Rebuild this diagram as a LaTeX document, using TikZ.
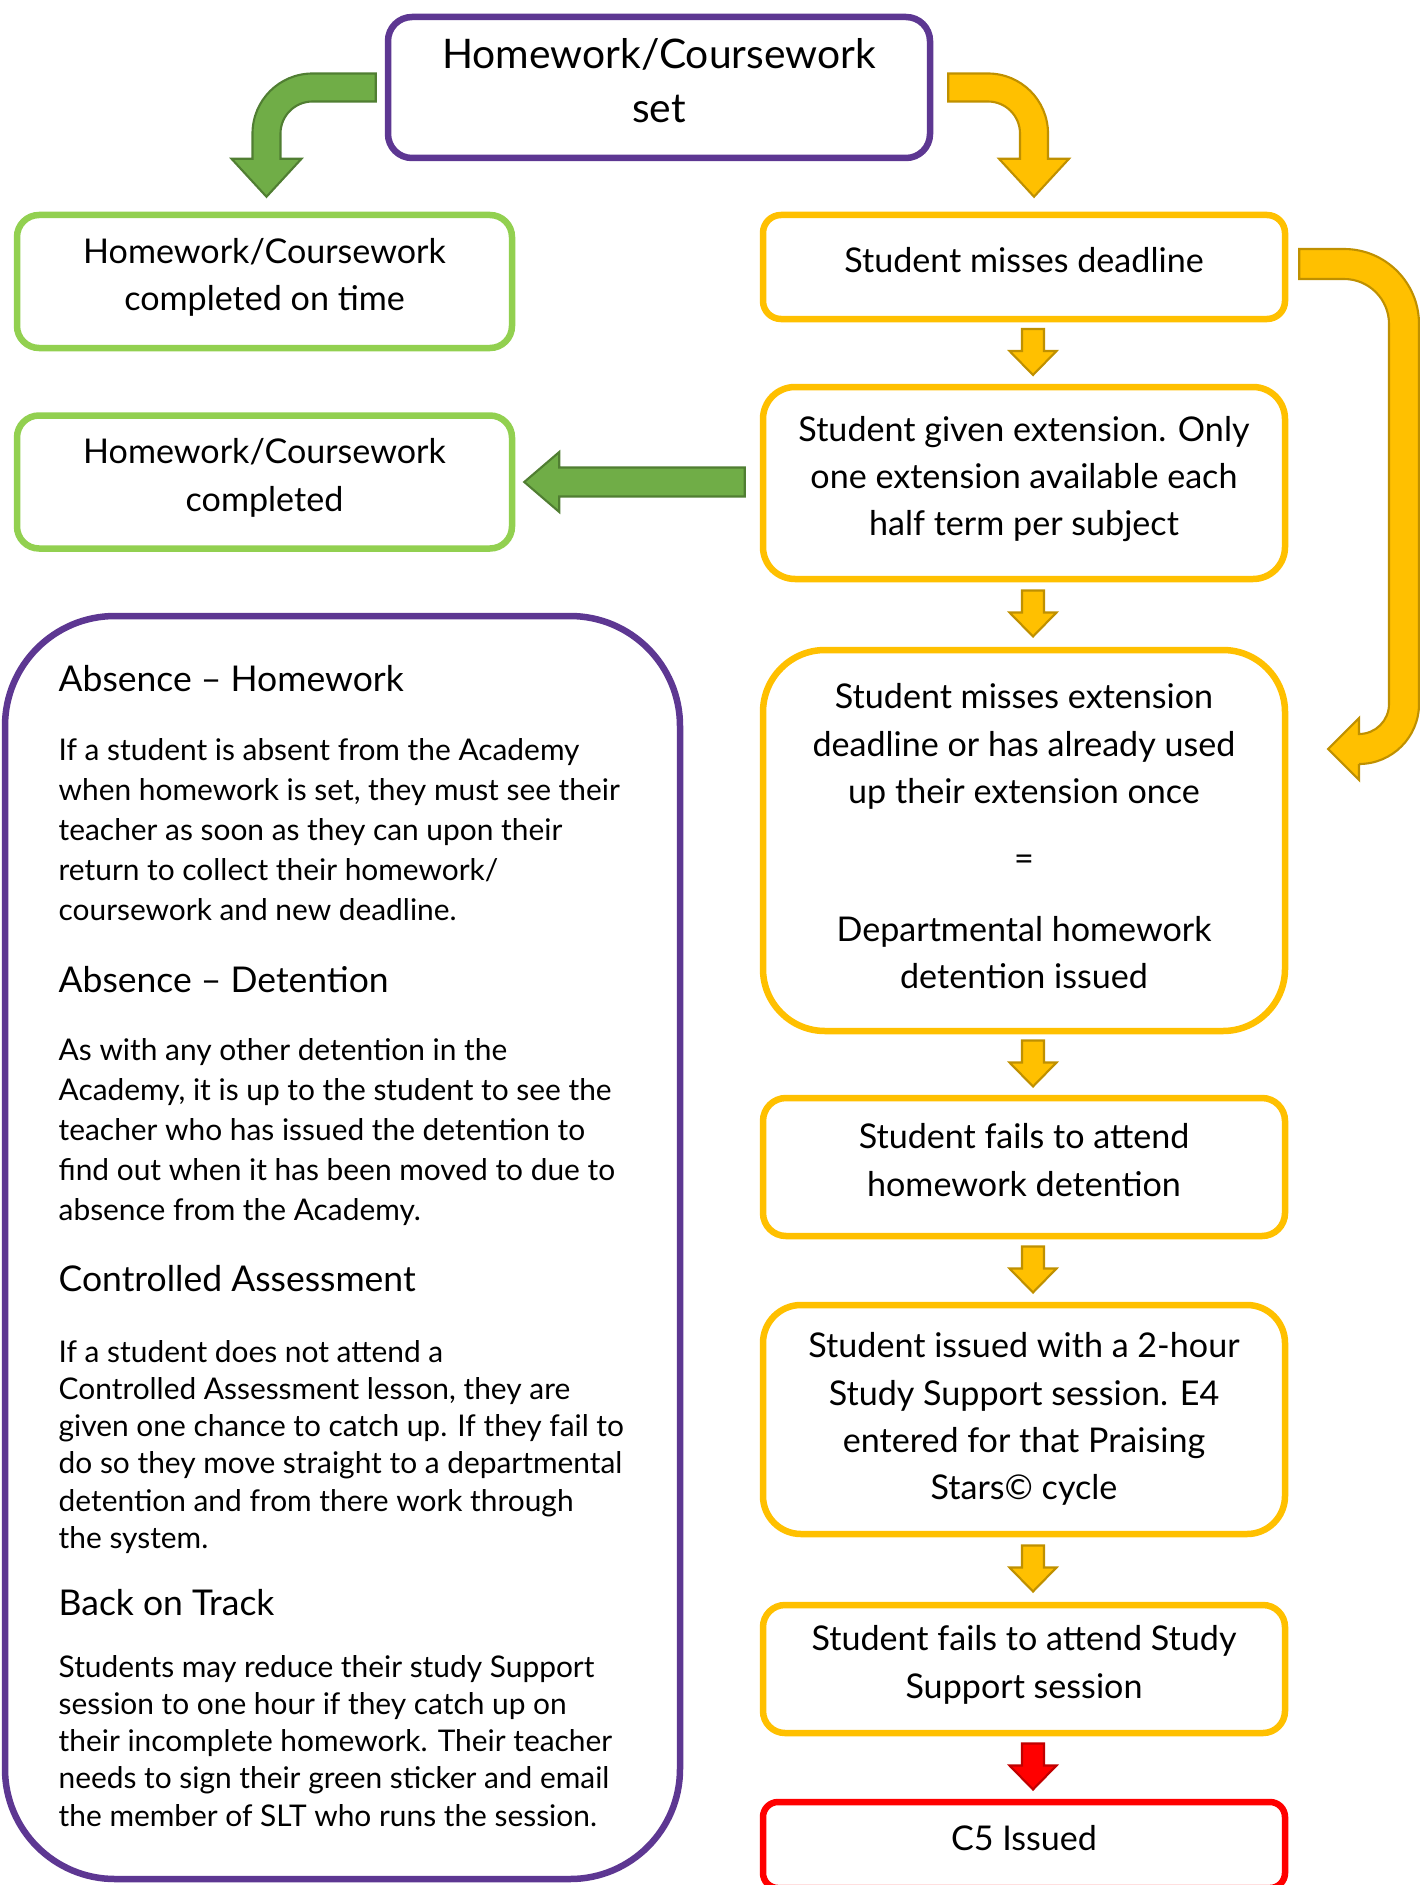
\documentclass[tikz,border=0pt]{standalone}
\usepackage{fontspec}
\setmainfont{Lato}
\usetikzlibrary{calc}

\definecolor{hwpurple}{RGB}{93,55,146}
\definecolor{hwgreen}{RGB}{146,208,80}
\definecolor{hwyellow}{RGB}{255,192,0}
\definecolor{hwred}{RGB}{255,0,0}
\definecolor{arrowgreen}{RGB}{112,173,71}
\definecolor{arrowgreenedge}{RGB}{80,126,50}
\definecolor{arrowyellowedge}{RGB}{191,144,0}
\definecolor{arrowrededge}{RGB}{192,0,0}

% freccia piccola verso il basso tra due riquadri
\newcommand{\dropto}[3]{%
  \draw[#3] let \p1=($(#1.south)+(0.09,0)$), \p2=(#2.north), \p3=($(#1.south)!0.5!(#2.north)$) in
    (\x1-0.11cm,\y3+0.24cm) -- (\x1+0.11cm,\y3+0.24cm) -- (\x1+0.11cm,\y3+0.02cm)
    -- (\x1+0.235cm,\y3+0.02cm) -- (\x1,\y3-0.22cm) -- (\x1-0.235cm,\y3+0.02cm)
    -- (\x1-0.11cm,\y3+0.02cm) -- cycle;}

\begin{document}
\begin{tikzpicture}[
    box/.style={draw, line width=0.065cm, rounded corners=#1, align=center, fill=white,
      text depth=4pt, font=\fontsize{9.7}{13.4}\selectfont},
    greenbox/.style={box=0.22cm, draw=hwgreen, minimum width=4.95cm, minimum height=1.33cm},
    yellowbox/.style={box=#1, draw=hwyellow, minimum width=5.22cm},
    head/.style={anchor=base west, inner sep=0pt, font=\fontsize{10.1}{12}\selectfont},
    body/.style={anchor=north west, inner sep=0pt, align=left, font=\fontsize{8.5}{11.4}\selectfont},
    bodytight/.style={body, font=\fontsize{8.5}{10.55}\selectfont},
    greenarrow/.style={fill=arrowgreen, draw=arrowgreenedge, line width=0.6pt},
    yellowarrow/.style={fill=hwyellow, draw=arrowyellowedge, line width=0.6pt},
    redarrow/.style={fill=hwred, draw=arrowrededge, line width=0.6pt}
  ]
  \useasboundingbox (0,0) rectangle (14.19,-18.85);

  %riquadro in alto
  \node[box=0.24cm, draw=hwpurple, minimum width=5.42cm, minimum height=1.41cm,
    font=\fontsize{11.6}{15.4}\selectfont] (top) at (6.59,-0.875) {Homework/Coursework\\set};

  %riquadri verdi
  \node[greenbox] (done) at (2.645,-2.815) {Homework/Coursework\\completed on time};
  \node[greenbox] (latedone) at (2.645,-4.82) {Homework/Coursework\\completed};

  %riquadri gialli
  \node[yellowbox=0.18cm, minimum height=1.04cm] (missed) at (10.24,-2.67) {Student misses deadline};
  \node[yellowbox=0.32cm, minimum height=1.92cm] (extension) at (10.24,-4.83)
    {Student given extension. Only\\one extension available each\\half term per subject};
  \node[yellowbox=0.62cm, minimum height=3.81cm, text depth=2.5pt] (detention) at (10.24,-8.405)
    {Student misses extension\\deadline or has already used\\up their extension once\\[0.2cm]
     =\\[0.24cm] Departmental homework\\detention issued};
  \node[yellowbox=0.23cm, minimum height=1.38cm] (noshow) at (10.24,-11.67)
    {Student fails to attend\\homework detention};
  \node[yellowbox=0.38cm, minimum height=2.29cm, text depth=2pt] (support) at (10.24,-14.195)
    {Student issued with a 2-hour\\Study Support session. E4\\entered for that Praising\\Stars© cycle};
  \node[yellowbox=0.22cm, minimum height=1.28cm] (nosupport) at (10.24,-16.69)
    {Student fails to attend Study\\Support session};
  \node[box=0.15cm, draw=hwred, minimum width=5.22cm, minimum height=0.86cm] (cfive) at (10.24,-18.45)
    {C5 Issued};

  %riquadro viola a sinistra
  \node[box=1.1cm, draw=hwpurple, minimum width=6.75cm, minimum height=12.63cm] (absence) at (3.425,-12.475) {};

  \node[head] (h1) at (0.58,-6.91) {Absence – Homework};
  \node[body] (p1) at (0.58,-7.38) {If a student is absent from the Academy\\when homework is set, they must see their\\teacher as soon as they can upon their\\return to collect their homework/\\coursework and new deadline.};
  \node[head] (h2) at (0.58,-9.92) {Absence – Detention};
  \node[body] (p2) at (0.58,-10.38) {As with any other detention in the\\Academy, it is up to the student to see the\\teacher who has issued the detention to\\find out when it has been moved to due to\\absence from the Academy.};
  \node[head] (h3) at (0.58,-12.91) {Controlled Assessment};
  \node[bodytight] (p3) at (0.58,-13.40) {If a student does not attend a\\Controlled Assessment lesson, they are\\given one chance to catch up. If they fail to\\do so they move straight to a departmental\\detention and from there work through\\the system.};
  \node[head] (h4) at (0.58,-16.15) {Back on Track};
  \node[bodytight] (p4) at (0.58,-16.55) {Students may reduce their study Support\\session to one hour if they catch up on\\their incomplete homework. Their teacher\\needs to sign their green sticker and email\\the member of SLT who runs the session.};

  %frecce curve dal riquadro in alto
  \draw[greenarrow] let \p1=(top.west), \p2=(done.north) in
    (\x1-0.09cm,\y1+0.14cm) -- (\x2+0.48cm,\y1+0.14cm)
    arc[start angle=90,end angle=180,radius=0.6cm] -- (\x2-0.12cm,\y2+0.53cm)
    -- (\x2-0.33cm,\y2+0.53cm) -- (\x2+0.02cm,\y2+0.15cm) -- (\x2+0.37cm,\y2+0.53cm)
    -- (\x2+0.16cm,\y2+0.53cm) -- (\x2+0.16cm,\y1-0.46cm)
    arc[start angle=180,end angle=90,radius=0.32cm] -- (\x1-0.09cm,\y1-0.14cm) -- cycle;
  \draw[yellowarrow] let \p1=(top.east), \p2=(missed.north) in
    (\x1+0.15cm,\y1+0.14cm) -- (\x2-0.36cm,\y1+0.14cm)
    arc[start angle=90,end angle=0,radius=0.6cm] -- (\x2+0.24cm,\y2+0.53cm)
    -- (\x2+0.45cm,\y2+0.53cm) -- (\x2+0.10cm,\y2+0.15cm) -- (\x2-0.25cm,\y2+0.53cm)
    -- (\x2-0.04cm,\y2+0.53cm) -- (\x2-0.04cm,\y1-0.46cm)
    arc[start angle=0,end angle=90,radius=0.32cm] -- (\x1+0.15cm,\y1-0.14cm) -- cycle;

  %freccia lunga a destra
  \coordinate (skipin) at (13.28,-7.49);
  \draw[yellowarrow] let \p1=(missed.east), \p2=(skipin) in
    (\x1+0.11cm,\y1+0.18cm) -- (13.44,\y1+0.18cm)
    arc[start angle=90,end angle=0,radius=0.75cm] -- (14.19,\y2+0.45cm)
    arc[start angle=0,end angle=-90,radius=0.6cm] -- (\x2+0.31cm,\y2-0.15cm)
    -- (\x2+0.31cm,\y2-0.31cm) -- (\x2,\y2) -- (\x2+0.31cm,\y2+0.31cm)
    -- (\x2+0.31cm,\y2+0.15cm) arc[start angle=-90,end angle=0,radius=0.3cm]
    -- (13.89,\y1-0.57cm) arc[start angle=0,end angle=90,radius=0.45cm]
    -- (\x1+0.11cm,\y1-0.12cm) -- cycle;

  %freccia verde verso sinistra
  \draw[greenarrow] let \p1=(extension.west), \p2=(latedone.east) in
    (\x1-0.15cm,\y2+0.145cm) -- (\x2+0.44cm,\y2+0.145cm) -- (\x2+0.44cm,\y2+0.3cm)
    -- (\x2+0.09cm,\y2) -- (\x2+0.44cm,\y2-0.3cm) -- (\x2+0.44cm,\y2-0.145cm)
    -- (\x1-0.15cm,\y2-0.145cm) -- cycle;

  %frecce piccole
  \dropto{missed}{extension}{yellowarrow}
  \dropto{extension}{detention}{yellowarrow}
  \dropto{detention}{noshow}{yellowarrow}
  \dropto{noshow}{support}{yellowarrow}
  \dropto{support}{nosupport}{yellowarrow}
  \dropto{nosupport}{cfive}{redarrow}
\end{tikzpicture}
\end{document}
